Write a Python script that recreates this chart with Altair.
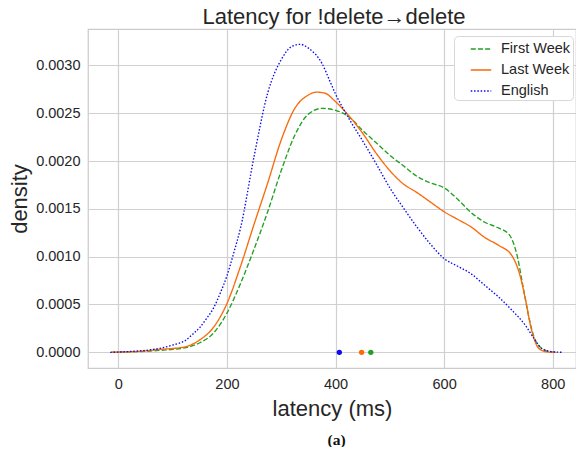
import altair as alt
import pandas as pd

# ---- data ----
series_names = ["First Week", "Last Week", "English"]
series_colors = ["#22a022", "#fa6a0a", "#0a0af0"]
series_dashes = [[5, 2.2], [1, 0], [1.5, 1.8]]

first_x = [-13, 0, 25, 50, 75, 100, 125, 150, 175, 200, 225, 250, 275, 300, 325, 350, 375,
           400, 425, 450, 475, 500, 525, 550, 575, 600, 625, 650, 675, 700, 720, 735, 745,
           755, 765, 780, 795, 806]
first_y = [0, 0.000002, 0.000005, 0.00001, 0.00002, 0.00003, 0.00005, 0.0001, 0.0002,
           0.00041, 0.00072, 0.00108, 0.00147, 0.0019, 0.00227, 0.00249, 0.00255, 0.00253,
           0.00246, 0.00232, 0.00219, 0.00206, 0.00195, 0.00184, 0.00177, 0.00172, 0.0016,
           0.00146, 0.00136, 0.0013, 0.00123, 0.001, 0.0007, 0.0004, 0.00017, 0.00004,
           0.000005, 0]

last_x = [-13, 0, 25, 50, 75, 100, 125, 150, 175, 200, 225, 250, 275, 300, 325, 350, 365,
          380, 400, 425, 450, 475, 500, 525, 550, 575, 600, 625, 650, 675, 700, 725, 740,
          750, 760, 770, 780, 792, 806]
last_y = [0, 0.000002, 0.000006, 0.000015, 0.00003, 0.00004, 0.00006, 0.00013, 0.00026,
          0.00051, 0.0009, 0.00134, 0.00177, 0.00222, 0.00255, 0.00269, 0.00272, 0.00271,
          0.00262, 0.00247, 0.00229, 0.00208, 0.0019, 0.00176, 0.00167, 0.00157, 0.00147,
          0.00139, 0.00131, 0.0012, 0.00112, 0.00101, 0.0008, 0.00055, 0.00026, 0.00008,
          0.00002, 0.000003, 0]

eng_x = [-15, 0, 25, 50, 75, 100, 125, 137, 150, 162, 175, 187, 200, 212, 225, 250, 275,
         300, 320, 335, 350, 375, 390, 400, 412, 425, 450, 475, 500, 525, 550, 575, 600,
         625, 650, 675, 700, 725, 750, 765, 780, 800, 818]
eng_y = [0, 0.000003, 0.00001, 0.00002, 0.00004, 0.000076, 0.00013, 0.00019, 0.00026,
         0.00035, 0.00046, 0.00061, 0.0008, 0.00103, 0.0013, 0.00205, 0.00271, 0.00306,
         0.0032, 0.00322, 0.00318, 0.00302, 0.00283, 0.0027, 0.00257, 0.00244, 0.00221,
         0.00197, 0.00172, 0.00151, 0.00131, 0.00113, 0.00098, 0.0009, 0.00082, 0.0007,
         0.00058, 0.00044, 0.00028, 0.00015, 0.00004, 0.000005, 0]

mean_latency = [465, 448, 407]   # First Week, Last Week, English

x_ticks = [0, 200, 400, 600, 800]
y_ticks = [0, 0.0005, 0.001, 0.0015, 0.002, 0.0025, 0.003]

title_text = "Latency for !delete\u2192delete"
x_title = "latency (ms)"
y_title = "density"
caption = "(a)"

# ---- tables ----
rows = []
for name, xs, ys in zip(series_names, [first_x, last_x, eng_x], [first_y, last_y, eng_y]):
    for i, (xv, yv) in enumerate(zip(xs, ys)):
        rows.append({"series": name, "latency": xv, "density": yv, "i": i})
curves = pd.DataFrame(rows)

means = pd.DataFrame({"series": series_names, "latency": mean_latency,
                      "density": [0, 0, 0], "col": series_colors})

cap_df = pd.DataFrame({"t": [caption]})

W, H = 488, 339
FONT = "Liberation Sans"
TXT = "#262626"

xscale = alt.Scale(domain=[-56, 843], nice=False, zero=False)
yscale = alt.Scale(domain=[-0.000164, 0.00338], nice=False, zero=False)

legend_opts = dict(title=None, orient="none", legendX=366, legendY=7,
                   symbolType="stroke", symbolSize=420, symbolStrokeWidth=1.35,
                   symbolOffset=14, labelOffset=9, rowPadding=3, padding=2,
                   labelFontSize=14.5, labelFont=FONT, labelColor=TXT,
                   fillColor="white", strokeColor="#d8d8d8", cornerRadius=4)

lines = alt.Chart(curves).mark_line(strokeWidth=1.35, interpolate="monotone").encode(
    x=alt.X("latency:Q", scale=xscale,
            axis=alt.Axis(values=x_ticks, title=x_title, format="d")),
    y=alt.Y("density:Q", scale=yscale,
            axis=alt.Axis(values=y_ticks, title=y_title, format=".4f")),
    color=alt.Color("series:N", sort=series_names,
                    scale=alt.Scale(domain=series_names, range=series_colors),
                    legend=alt.Legend(**legend_opts)),
    strokeDash=alt.StrokeDash("series:N", sort=series_names,
                              scale=alt.Scale(domain=series_names, range=series_dashes),
                              legend=alt.Legend(**legend_opts)),
    order="i:Q",
)

dots = alt.Chart(means).mark_circle(size=28, opacity=1).encode(
    x=alt.X("latency:Q", scale=xscale),
    y=alt.Y("density:Q", scale=yscale),
    fill=alt.Fill("col:N", scale=None),
)

cap = alt.Chart(cap_df).mark_text(font="Liberation Serif", fontWeight="bold", fontSize=15.5,
                                  color="#111111", align="center", baseline="middle").encode(
    text="t:N",
    x=alt.value(248.5),
    y=alt.value(H + 72),
)

chart = alt.layer(lines, dots, cap).properties(
    width=W, height=H,
    background="white",
    title=alt.TitleParams(title_text, fontSize=22, font=FONT, fontWeight="normal",
                          color=TXT, anchor="middle", offset=0, dx=2),
    autosize=alt.AutoSizeParams(type="none"),
    padding={"left": 80, "top": 21, "right": 0, "bottom": 79},
).configure_view(
    stroke="#cccccc", strokeWidth=1.25
).configure_axis(
    domain=False, ticks=False, grid=True, gridColor="#d0d0d0", gridWidth=1.2,
    labelFont=FONT, labelFontSize=14.5, labelColor=TXT, labelPadding=8,
    titleFont=FONT, titleFontSize=22, titleColor=TXT, titleFontWeight="normal",
).configure_axisX(
    titlePadding=8, labelPadding=9
).configure_axisY(
    titlePadding=4
)

chart.save("out.html", embed_options={"renderer": "svg", "actions": False})
